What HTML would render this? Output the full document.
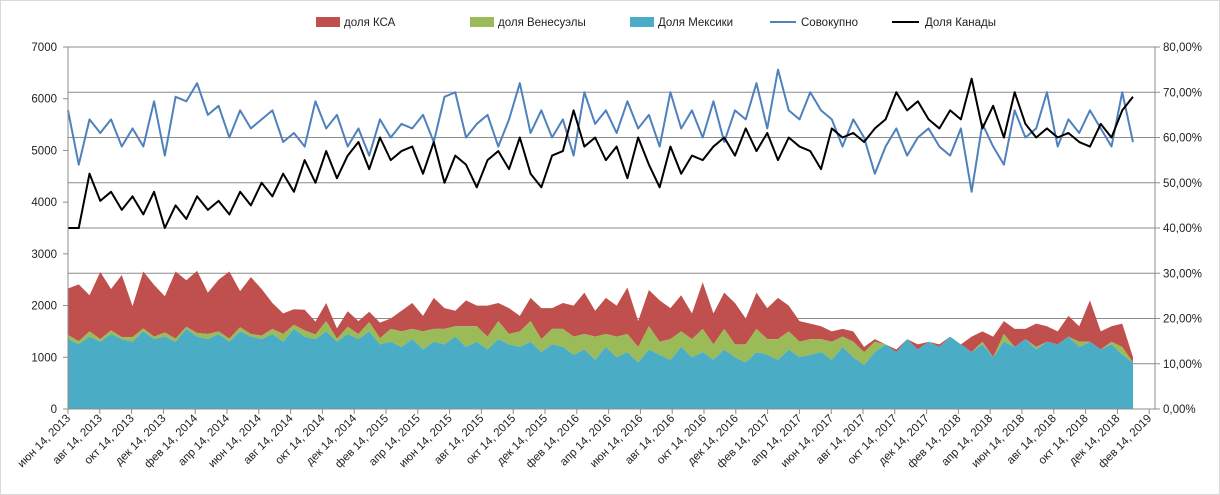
<!DOCTYPE html>
<html><head><meta charset="utf-8">
<style>
html,body{margin:0;padding:0;background:#fff;}
svg{display:block;font-family:"Liberation Sans",sans-serif;}
</style></head>
<body>
<svg id="chart" width="1220" height="495" viewBox="0 0 1220 495" xmlns="http://www.w3.org/2000/svg">
<rect x="0.5" y="0.5" width="1219" height="494" fill="#fff" stroke="#d9d9d9"/>
<g id="legend" font-size="11.5" fill="#222">
 <g><rect x="316" y="17" width="24" height="10" fill="#c0504d"/><text x="344" y="26">доля КСА</text></g>
 <g><rect x="470" y="17" width="24" height="10" fill="#9bbb59"/><text x="498" y="26">доля Венесуэлы</text></g>
 <g><rect x="630" y="17" width="24" height="10" fill="#4bacc6"/><text x="658" y="26">Доля Мексики</text></g>
 <g><line x1="770" y1="22" x2="796" y2="22" stroke="#4f81bd" stroke-width="2"/><text x="801" y="26">Совокупно</text></g>
 <g><line x1="892" y1="22" x2="919" y2="22" stroke="#000" stroke-width="2"/><text x="925" y="26">Доля Канады</text></g>
</g>
<g id="grid"></g>
<g id="areas"></g>
<g id="lines"></g>
<g id="axes"></g>
</svg>
<script>
const mex = [1350,1250,1400,1300,1450,1350,1300,1500,1350,1400,1300,1550,1400,1350,1450,1300,1500,1400,1350,
 1450,1300,1550,1400,1350,1500,1300,1450,1350,1500,1250,
 1300,1200,1350,1150,1300,1250,1400,1200,1300,1150,1350,1250,1200,1300,1100,1250,1200,
 1050,1150,950,1200,1000,1100,900,1150,1050,950,1200,1000,1100,950,1150,1000,900,1100,1050,950,1150,1000,
 1050,1100,950,1200,1000,850,1100,
 1250,1100,1350,1150,1300,1200,1400,1250,
 1100,1250,1000,1300,1200,1350,1150,1300,1250,1400,1200,1300,1150,1250,1050,900];
const ven = [80,60,100,50,70,40,90,60,50,80,60,40,70,100,50,60,80,50,70,
 100,150,80,120,90,200,60,140,100,180,120,
 250,300,200,350,250,300,200,400,300,250,350,200,300,400,250,300,350,
 350,300,450,250,400,350,300,450,250,400,300,350,450,300,400,250,350,450,300,400,350,300,
 300,250,350,200,300,250,200,
 0,0,0,0,0,0,0,0,
 0,50,0,150,0,0,50,0,0,0,100,0,0,50,150,0];
const ksa = [900,1100,700,1300,800,1200,600,1100,1000,700,1300,900,1200,800,1000,1300,700,1100,900,
 500,400,300,400,250,350,200,300,250,200,300,
 200,400,500,300,600,400,300,500,400,600,350,500,300,450,600,400,500,
 600,800,500,700,600,900,500,700,800,600,700,500,900,600,700,800,500,700,600,800,500,400,
 300,250,200,150,200,100,50,
 0,50,0,100,0,50,0,0,
 300,200,400,250,350,200,450,300,250,400,300,800,350,300,450,100];
const canada = [40,40,52,46,48,44,47,43,48,40,
 45,42,47,44,46,43,48,45,50,47,
 52,48,55,50,57,51,56,59,53,60,
 55,57,58,52,59,50,56,54,49,55,
 57,53,60,52,49,56,57,66,58,60,
 55,58,51,60,54,49,58,52,56,55,
 58,60,56,62,57,61,55,60,58,57,
 53,62,60,61,59,62,64,70,66,68,
 64,62,66,64,73,62,67,60,70,63,
 60,62,60,61,59,58,63,60,66,69];
const total = [66,54,64,61,64,58,62,58,68,56,
 69,68,72,65,67,60,66,62,64,66,
 59,61,58,68,62,65,58,62,56,64,
 60,63,62,65,59,69,70,60,63,65,
 58,64,72,61,66,60,64,56,70,63,
 66,61,68,62,65,58,70,62,66,60,
 68,59,66,64,72,62,75,66,64,70,
 66,64,58,64,60,52,58,62,56,60,
 62,58,56,62,48,63,58,54,66,60,
 62,70,58,64,61,66,62,58,70,59];
const leftTicks = ["0","1000","2000","3000","4000","5000","6000","7000"];
const rightTicks = ["0,00%","10,00%","20,00%","30,00%","40,00%","50,00%","60,00%","70,00%","80,00%"];
const xLabels = ["июн 14, 2013","авг 14, 2013","окт 14, 2013","дек 14, 2013","фев 14, 2014","апр 14, 2014","июн 14, 2014","авг 14, 2014","окт 14, 2014","дек 14, 2014","фев 14, 2015","апр 14, 2015","июн 14, 2015","авг 14, 2015","окт 14, 2015","дек 14, 2015","фев 14, 2016","апр 14, 2016","июн 14, 2016","авг 14, 2016","окт 14, 2016","дек 14, 2016","фев 14, 2017","апр 14, 2017","июн 14, 2017","авг 14, 2017","окт 14, 2017","дек 14, 2017","фев 14, 2018","апр 14, 2018","июн 14, 2018","авг 14, 2018","окт 14, 2018","дек 14, 2018","фев 14, 2019"];

const NS="http://www.w3.org/2000/svg";
const X0=68, X1=1155, XLAST=1133, Y0=409, YTOP=47;
const n = mex.length;
const xs = i => X0 + i*(XLAST-X0)/(n-1);
const yL = v => Y0 - v/7000*(Y0-YTOP);
const yR = p => Y0 - p/80*(Y0-YTOP);
function mk(tag, attrs, parent){const e=document.createElementNS(NS,tag);for(const k in attrs)e.setAttribute(k,attrs[k]);parent.appendChild(e);return e;}
const grid=document.getElementById('grid'), areas=document.getElementById('areas'), lines=document.getElementById('lines'), axes=document.getElementById('axes');

rightTicks.forEach((t,k)=>{
  const y=yR(k*10);
  if(k>0){const g=mk('line',{x1:X0,x2:X1,y1:y,y2:y,stroke:'#8c8c8c','stroke-width':1},grid);
  
  }
  mk('line',{x1:X1,x2:X1+5,y1:y,y2:y,stroke:'#8c8c8c'},axes);
  const tx=mk('text',{x:1163,y:y+4,'font-size':11.5,fill:'#222'},axes);tx.textContent=t;
  
  
});
leftTicks.forEach((t,k)=>{
  const y=yL(+t);
  mk('line',{x1:X0-5,x2:X0,y1:y,y2:y,stroke:'#8c8c8c'},axes);
  const tx=mk('text',{x:57,y:y+4,'font-size':11.5,fill:'#222','text-anchor':'end'},axes);tx.textContent=t;
  
  
});
mk('line',{x1:X0,x2:X0,y1:YTOP,y2:Y0,stroke:'#8c8c8c'},axes);
mk('line',{x1:X1,x2:X1,y1:YTOP,y2:Y0,stroke:'#8c8c8c'},axes);
mk('line',{x1:X0,x2:X1,y1:Y0,y2:Y0,stroke:'#8c8c8c'},axes);
const step=31.8;
xLabels.forEach((l,k)=>{
  const x=X0+k*step;
  mk('line',{x1:x,x2:x,y1:Y0,y2:Y0+5,stroke:'#8c8c8c'},axes);
  const tx=mk('text',{x:x+3,y:Y0+10,'font-size':11.5,fill:'#222','text-anchor':'end',transform:`rotate(-45 ${x+3} ${Y0+10})`},axes);
  tx.textContent=l;
  
  
});

function stackArea(lower, upper, color, name){
  let d='M'+xs(0)+','+yL(upper[0]);
  for(let i=1;i<n;i++) d+='L'+xs(i)+','+yL(upper[i]);
  for(let i=n-1;i>=0;i--) d+='L'+xs(i)+','+yL(lower[i]);
  const p=mk('path',{d:d+'Z',fill:color},areas);
  
  
}
const zero=mex.map(()=>0);
const s1=mex.slice();
const s2=mex.map((v,i)=>v+ven[i]);
const s3=s2.map((v,i)=>v+ksa[i]);
stackArea(s2,s3,'#c0504d','area-ksa');
stackArea(s1,s2,'#9bbb59','area-venezuela');
stackArea(zero,s1,'#4bacc6','area-mexico');

function line(arr,color,name){
  const pts=arr.map((v,i)=>xs(i)+','+yR(v)).join(' ');
  const p=mk('polyline',{points:pts,fill:'none',stroke:color,'stroke-width':2,'stroke-linejoin':'round'},lines);
  
  
}
line(total,'#4f81bd','line-total');
line(canada,'#000','line-canada');
</script>
</body></html>
